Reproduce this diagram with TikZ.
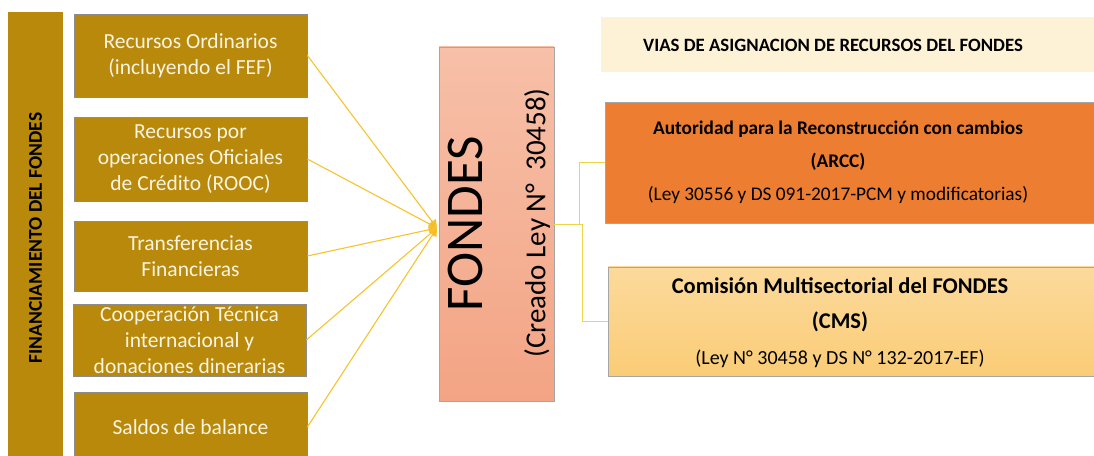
\documentclass[tikz,border=0pt]{standalone}
\usepackage{fontspec}
\setmainfont{Carlito}
\usetikzlibrary{arrows.meta, positioning}
\usepackage{xcolor}
\definecolor{oro}{RGB}{184,137,11}
\definecolor{crema}{RGB}{250,244,224}
\definecolor{flecha}{RGB}{245,195,45}
\definecolor{rama}{RGB}{236,214,70}
\definecolor{salmonA}{RGB}{247,192,168}
\definecolor{salmonB}{RGB}{243,164,132}
\definecolor{naranja}{RGB}{237,125,49}
\definecolor{duraznoA}{RGB}{252,218,156}
\definecolor{duraznoB}{RGB}{250,204,118}
\definecolor{titulo}{RGB}{253,242,214}

\begin{document}
\begin{tikzpicture}[x=1pt,y=1pt]
    \tikzstyle{fuente}=[rectangle, fill=oro, draw=black!45, line width=0.8pt, minimum width=233pt, inner sep=0pt, text=crema, align=center, font=\fontsize{21.5}{26}\selectfont]
    \tikzstyle{via}=[rectangle, draw=black!35, line width=0.8pt, minimum width=495pt, inner sep=0pt]
    \tikzstyle{texto via}=[align=center, font=\fontsize{19}{33}\selectfont]
    \tikzstyle{aporte}=[draw=flecha, line width=1.1pt, -{Triangle[width=9pt,length=8pt,fill=flecha!90!orange]}]
    \tikzstyle{enlace}=[draw=rama, line width=0.9pt]

    \useasboundingbox (0,0) rectangle (1094,455);

    % barra lateral
    \node[fill=oro, rotate=90, minimum width=452pt, minimum height=55pt, inner sep=0pt,
          font=\bfseries\fontsize{19.5}{20}\selectfont] (barra) at (35.5,217) {FINANCIAMIENTO DEL FONDES};

    % fuentes de financiamiento
    \node[fuente, minimum height=83pt] (R1) at (190.5,399.5) {Recursos Ordinarios\\(incluyendo el FEF)};
    \node[fuente, minimum height=84pt] (R2) at (190.5,296) {Recursos por\\operaciones Oficiales\\de Crédito (ROOC)};
    \node[fuente, minimum height=70pt] (R3) at (190.5,199) {Transferencias\\Financieras};
    \node[fuente, minimum height=72pt] (R4) at (189.5,115) {Cooperación Técnica\\internacional y\\donaciones dinerarias};
    \node[fuente, minimum height=70pt] (R5) at (190.5,28) {Saldos de balance};

    % fondo
    \node[rectangle, draw=black!35, line width=0.8pt, top color=salmonA, bottom color=salmonB,
          minimum width=115pt, minimum height=354pt] (fondes) at (496.5,231) {};
    \node[rotate=90, font=\fontsize{53}{53}\selectfont] (nombre) at (465.5,231.5) {FONDES};
    \node[rotate=90, font=\fontsize{29}{29}\selectfont] (ley) at (537,232) {(Creado Ley N°~~30458)};
    \coordinate (punta) at (437,227);

    \foreach \r in {R1,R2,R3,R4,R5}
        \draw[aporte] (\r.east) -- (punta);

    % vias de asignacion
    \node[fill=titulo, minimum width=499pt, minimum height=55pt, inner sep=0pt] (vias) at (850.5,410.5) {};
    \node[font=\bfseries\fontsize{18.8}{20}\selectfont] (viasT) at (833,410) {VIAS DE ASIGNACION DE RECURSOS DEL FONDES};

    \node[via, fill=naranja, minimum height=121pt] (arcc) at (852.5,292.5) {};
    \node[texto via, font=\fontsize{19.3}{33}\selectfont] (arccT) at (838,292.5) {\textbf{Autoridad para la Reconstrucción con cambios}\\\textbf{(ARCC)}\\(Ley 30556 y DS 091-2017-PCM y modificatorias)};

    \node[via, top color=duraznoA, bottom color=duraznoB, minimum height=109pt] (cms) at (855.5,133.5) {};
    \node[texto via, font=\fontsize{20}{35.5}\selectfont] (cmsT) at (840,132.5) {{\bfseries\fontsize{22.5}{35.5}\selectfont Comisión Multisectorial del FONDES}\\{\bfseries\fontsize{22.5}{35.5}\selectfont (CMS)}\\(Ley N° 30458 y DS N° 132-2017-EF)};

    \draw[enlace] (fondes.east) -- ++(25,0) |- (arcc.west);
    \draw[enlace] (fondes.east) -- ++(28,0) |- (cms.west);

\end{tikzpicture}
\end{document}
